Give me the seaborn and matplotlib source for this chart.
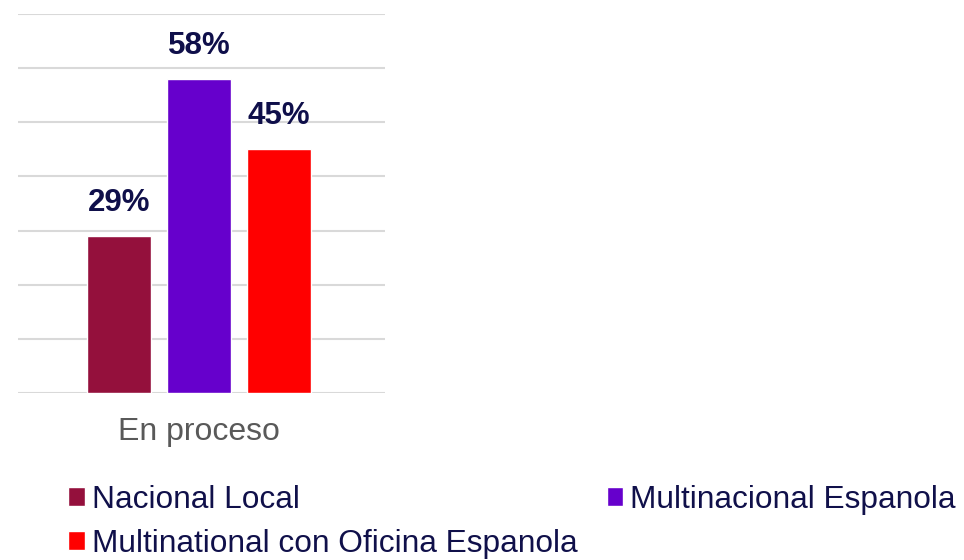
import pandas as pd
import matplotlib.pyplot as plt
import seaborn as sns
from matplotlib.patches import Patch

# Chart data
categories = ['En proceso']
groups = ['Nacional Local', 'Multinacional Espanola', 'Multinational con Oficina Espanola']
values = [0.29, 0.58, 0.45]
colors = ['#94103C', '#6600CC', '#FF0000']

df = pd.DataFrame({
    'categoria': categories * len(groups),
    'grupo': groups,
    'valor': values,
})

sns.set_style('white')
plt.rcParams['font.family'] = ['Liberation Sans', 'DejaVu Sans']

fig = plt.figure(figsize=(9.64, 5.6), dpi=100)
ax = fig.add_axes([18 / 964, 1 - 393 / 560, 367 / 964, 379 / 560])

sns.barplot(data=df, x='categoria', y='valor', hue='grupo', hue_order=groups,
            palette=colors, width=0.652, gap=0.2, saturation=1, legend=False, ax=ax)

ax.set_ylim(0, 0.7)
ax.set_xlim(-0.4932, 0.5068)
ax.set_yticks([i / 10 for i in range(8)])
ax.set_yticklabels([])
ax.tick_params(axis='y', length=0)
ax.tick_params(axis='x', length=0, labelsize=23, labelcolor='#595959', pad=17)
ax.grid(axis='y', color='#d9d9d9', linewidth=1.5)
ax.set_axisbelow(True)
for s in ax.spines.values():
    s.set_visible(False)
ax.set_xlabel('')
ax.set_ylabel('')

# Value labels
for cont in ax.containers:
    ax.bar_label(cont, labels=[f'{v * 100:.0f}%' for v in cont.datavalues],
                 padding=13, fontsize=22.5, fontweight='bold', color='#0F0F4A')

# Legend (row-wise order)
handles = [Patch(facecolor=c) for c in colors]
order = [0, 2, 1]
fig.legend([handles[i] for i in order], [groups[i] for i in order],
           ncol=2, loc='upper left', bbox_to_anchor=(68 / 964, 1 - 485 / 560),
           frameon=False, fontsize=22.8, labelcolor='#10104A',
           handlelength=0.53, handleheight=0.53, handletextpad=0.22,
           columnspacing=0.92, labelspacing=0.44, borderpad=0, borderaxespad=0)

fig.savefig('out.png', dpi=100)
